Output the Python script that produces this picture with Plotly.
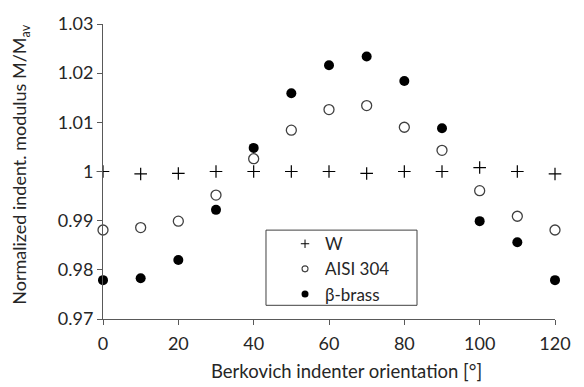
import plotly.graph_objects as go

orientation = [0, 10, 20, 30, 40, 50, 60, 70, 80, 90, 100, 110, 120]
w_values = [1.0, 0.9995, 0.9996, 1.0, 1.0, 1.0, 1.0, 0.9996, 1.0, 1.0, 1.0008, 1.0, 0.9995]
aisi_values = [0.9881, 0.9886, 0.9899, 0.9952, 1.0026, 1.0084, 1.0126, 1.0134, 1.0090, 1.0043, 0.9961, 0.9909, 0.9881]
brass_values = [0.9779, 0.9783, 0.9820, 0.9922, 1.0048, 1.0159, 1.0216, 1.0234, 1.0184, 1.0088, 0.9899, 0.9856, 0.9779]

x_ticks = [0, 20, 40, 60, 80, 100, 120]
y_ticks = [0.97, 0.98, 0.99, 1.0, 1.01, 1.02, 1.03]
y_ticktext = ["0.97", "0.98", "0.99", "1", "1.01", "1.02", "1.03"]

x_title = "Berkovich indenter orientation [°]"
y_title = "Normalized indent. modulus M/M<sub>av</sub>"

FONT = "Lato, 'Open Sans', sans-serif"
AXIS_COLOR = "#595959"
TEXT_COLOR = "#262626"

styles = {
    "W": dict(symbol="cross-thin", size=9, line=dict(color="black", width=1.2), color="black"),
    "AISI 304": dict(symbol="circle-open", size=10, line=dict(color="#404040", width=1.3), color="#404040"),
    "β-brass": dict(symbol="circle", size=10, color="black"),
}
legend_styles = {
    "W": dict(symbol="cross-thin", size=6, line=dict(color="black", width=1), color="black"),
    "AISI 304": dict(symbol="circle-open", size=6, line=dict(color="#404040", width=1.1), color="#404040"),
    "β-brass": dict(symbol="circle", size=7, color="black"),
}

fig = go.Figure()
for name, vals, grp in [("W", w_values, "a"), ("AISI 304", aisi_values, "b"), ("β-brass", brass_values, "c")]:
    fig.add_trace(go.Scatter(
        x=orientation, y=vals, mode="markers", name=name, legendgroup=grp,
        marker=styles[name], cliponaxis=False, showlegend=False,
    ))
    fig.add_trace(go.Scatter(
        x=[None], y=[None], mode="markers", name=name, legendgroup=grp,
        marker=legend_styles[name], showlegend=True,
    ))

# legend frame
fig.add_shape(type="rect", xref="paper", yref="paper",
              x0=0.3606, x1=0.6947, y0=0.0464, y1=0.3013,
              line=dict(color="#404040", width=1), fillcolor="white", layer="below")

# axis titles
fig.add_annotation(text=x_title, xref="paper", yref="paper", x=0.5387, y=-0.1755,
                   xanchor="center", yanchor="middle", showarrow=False,
                   font=dict(family=FONT, size=18.5, color=TEXT_COLOR))
fig.add_annotation(text=y_title, xref="paper", yref="paper", x=-0.1814, y=0.523,
                   xanchor="center", yanchor="middle", showarrow=False, textangle=-90,
                   font=dict(family=FONT, size=18, color=TEXT_COLOR))

fig.update_layout(
    width=584, height=387,
    margin=dict(l=103, r=29, t=17, b=68),
    paper_bgcolor="white", plot_bgcolor="white",
    font=dict(family=FONT, size=18, color=TEXT_COLOR),
    showlegend=True,
    legend=dict(
        x=0.4027, y=0.3146, xanchor="left", yanchor="top",
        borderwidth=0, bgcolor="rgba(0,0,0,0)",
        font=dict(family=FONT, size=17, color=TEXT_COLOR),
        tracegroupgap=0, traceorder="grouped",
    ),
    xaxis=dict(
        range=[0, 120], tickvals=x_ticks, showgrid=False, zeroline=False,
        showline=True, linecolor=AXIS_COLOR, linewidth=1,
        ticks="outside", ticklen=5, tickcolor=AXIS_COLOR,
        tickfont=dict(size=18), ticklabelstandoff=3,
    ),
    yaxis=dict(
        range=[0.97, 1.03], tickvals=y_ticks, ticktext=y_ticktext, showgrid=False, zeroline=False,
        showline=True, linecolor=AXIS_COLOR, linewidth=1,
        ticks="outside", ticklen=5, tickcolor=AXIS_COLOR,
        tickfont=dict(size=18),
    ),
)

fig.write_html("out.html", config={"displayModeBar": False},
               post_script="document.body.style.margin='0';")
